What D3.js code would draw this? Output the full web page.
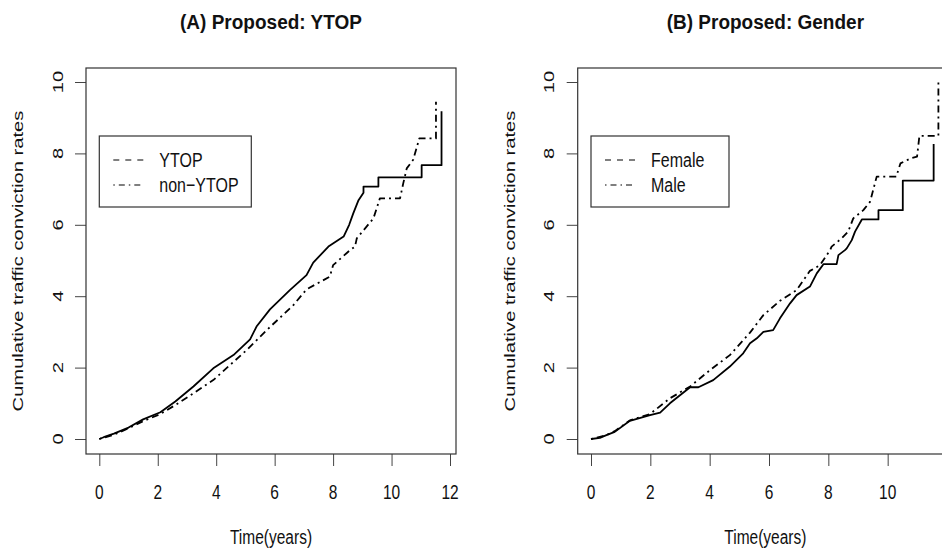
<!DOCTYPE html>
<html>
<head>
<meta charset="utf-8">
<script src="https://cdn.jsdelivr.net/npm/d3@7"></script>
<style>
  body { margin: 0; background: #fff; }
  svg { display: block; font-family: "Liberation Sans", Arial, sans-serif; }
</style>
</head>
<body>
<svg id="chart" width="942" height="552"></svg>
<script>
// Values (time in years, cumulative rate);
var ytopTime    = [0, 0.15, 0.5, 1.0, 1.5, 2.09, 2.6, 3.22, 3.9, 4.59, 5.16, 5.38, 5.84, 6.52, 7.09, 7.32, 7.84, 8.36, 8.55, 8.69, 8.87, 9.04, 9.04, 9.55, 9.55, 11.03, 11.03, 11.71, 11.71]
var ytopRate    = [0, 0.05, 0.15, 0.32, 0.55, 0.75, 1.05, 1.47, 1.98, 2.35, 2.79, 3.15, 3.63, 4.17, 4.59, 4.94, 5.39, 5.67, 6.0, 6.32, 6.69, 6.9, 7.07, 7.07, 7.33, 7.33, 7.67, 7.67, 9.18]
var nonYtopTime = [0, 0.5, 1.0, 1.5, 2.09, 2.6, 3.22, 3.9, 5.04, 5.73, 6.64, 7.09, 7.89, 8.0, 8.58, 8.75, 8.81, 9.38, 9.6, 10.29, 10.4, 10.52, 10.74, 10.95, 11.52, 11.52]
var nonYtopRate = [0, 0.12, 0.3, 0.5, 0.7, 0.95, 1.28, 1.65, 2.49, 3.05, 3.75, 4.19, 4.55, 4.87, 5.29, 5.39, 5.62, 6.18, 6.74, 6.74, 7.16, 7.58, 7.82, 8.42, 8.42, 9.45]

var femaleTime = [0, 0.3, 0.5, 0.8, 1.31, 1.99, 2.33, 2.66, 3.34, 3.62, 4.12, 4.68, 5.13, 5.36, 5.59, 5.81, 6.14, 6.37, 6.71, 6.93, 7.38, 7.61, 7.84, 8.28, 8.34, 8.56, 8.62, 8.79, 8.90, 9.13, 9.69, 9.69, 10.51, 10.51, 11.55, 11.55]
var femaleRate = [0, 0.03, 0.1, 0.2, 0.51, 0.67, 0.74, 1.0, 1.45, 1.45, 1.65, 2.03, 2.4, 2.68, 2.82, 3.0, 3.05, 3.38, 3.80, 4.03, 4.27, 4.64, 4.90, 4.90, 5.15, 5.29, 5.34, 5.57, 5.81, 6.15, 6.15, 6.41, 6.41, 7.24, 7.24, 8.26]
var maleTime   = [0, 0.5, 0.8, 1.31, 1.99, 2.66, 3.34, 4.01, 4.68, 5.36, 5.81, 6.37, 6.93, 7.38, 7.72, 8.06, 8.11, 8.45, 8.67, 8.84, 9.18, 9.41, 9.63, 10.29, 10.43, 10.77, 10.99, 11.07, 11.71, 11.71]
var maleRate   = [0, 0.1, 0.22, 0.52, 0.70, 1.14, 1.47, 1.93, 2.35, 2.98, 3.47, 3.87, 4.17, 4.71, 4.87, 5.29, 5.39, 5.62, 5.81, 6.18, 6.41, 6.65, 7.35, 7.35, 7.72, 7.86, 7.91, 8.49, 8.49, 10.01]

// Tick labels;
var xTicksLeft  = [0, 2, 4, 6, 8, 10, 12]
var xTicksRight = [0, 2, 4, 6, 8, 10]
var yTicks      = [0, 2, 4, 6, 8, 10]

// Text in the picture is taller than it is wide, so stretch it vertically;
const stretch = 1.3
const dotDash = "2,4,7,4"

const svg = d3.select("#chart")

/////////////////////////////

// Put a text at (x, y), centred, stretched along the vertical;
function label(g, str, x, y, size, opts) {
    opts = opts || {}
    var tr = opts.rotate
        ? `translate(${x},${y}) rotate(-90) scale(${stretch},1)`
        : `translate(${x},${y}) scale(1,${opts.sy || stretch})`
    return g.append("text")
        .attr("transform", tr)
        .attr("text-anchor", "middle")
        .attr("dominant-baseline", "central")
        .attr("font-size", size)
        .attr("font-weight", opts.bold ? "bold" : null)
        .attr("fill", "#111")
        .text(str)
}

function drawPanel(p) {
    const g = svg.append("g")

    const x = d3.scaleLinear().domain([0, 12]).range(p.xRange)
    const y = d3.scaleLinear().domain([0, 10]).range([439, 82])

    const boxLeft = p.xRange[0] - 13.3, boxRight = p.xRange[1] + 6
    const boxTop = 68, boxBottom = 454

    // Axes, R style: ticks below and to the left of the box;
    const xAxis = g.append("g")
        .attr("transform", `translate(0,${boxBottom})`)
        .call(d3.axisBottom(x).tickValues(p.xTicks).tickSize(12).tickFormat(""))
    const yAxis = g.append("g")
        .attr("transform", `translate(${boxLeft},0)`)
        .call(d3.axisLeft(y).tickValues(yTicks).tickSize(11).tickFormat(""))
    g.selectAll(".domain").remove()
    g.selectAll(".tick line").attr("stroke", "#444").attr("stroke-width", 1)

    g.append("rect")
        .attr("x", boxLeft).attr("y", boxTop)
        .attr("width", boxRight - boxLeft).attr("height", boxBottom - boxTop)
        .attr("fill", "none").attr("stroke", "#333").attr("stroke-width", 1.2)

    p.xTicks.forEach(t => label(g, t, x(t), 492, 15.5))
    yTicks.forEach(t => label(g, t, boxLeft - 28.5, y(t), 15.5, { rotate: true }))

    label(g, "Time(years)", (boxLeft + boxRight) / 2, 537, 15.5)
    label(g, "Cumulative traffic conviction rates", boxLeft - 68, (boxTop + boxBottom) / 2, 15.5, { rotate: true })
    label(g, p.title, (boxLeft + boxRight) / 2, 22, 19, { bold: true, sy: 1.1 })

    // Curves;
    const line = d3.line().x(d => x(d[0])).y(d => y(d[1]))
    p.series.forEach(s => {
        g.append("path")
            .datum(d3.zip(s.time, s.rate))
            .attr("d", line)
            .attr("fill", "none")
            .attr("stroke", "#000")
            .attr("stroke-width", 1.8)
            .attr("stroke-linejoin", "round")
            .attr("stroke-dasharray", s.dash)
    })

    // Legend;
    const lg = g.append("g").attr("transform", `translate(${boxLeft + 13.3},136)`)
    lg.append("rect")
        .attr("width", p.legendWidth).attr("height", 71)
        .attr("fill", "#fff").attr("stroke", "#333").attr("stroke-width", 1.2)
    p.series.forEach((s, i) => {
        const ly = 24 + i * 25
        lg.append("line")
            .attr("x1", 14).attr("x2", 45).attr("y1", ly).attr("y2", ly)
            .attr("stroke", "#000").attr("stroke-width", 1.2)
            .attr("stroke-dasharray", s.legendDash)
        label(lg, s.name, 0, ly, 16).attr("text-anchor", "start")
            .attr("transform", `translate(60,${ly}) scale(1,${stretch})`)
    })
}

drawPanel({
    title: "(A) Proposed: YTOP",
    xRange: [99.3, 450],
    xTicks: xTicksLeft,
    legendWidth: 152,
    series: [
        { name: "YTOP", time: ytopTime, rate: ytopRate, dash: null, legendDash: "6,6" },
        { name: "non\u2212YTOP", time: nonYtopTime, rate: nonYtopRate, dash: dotDash, legendDash: "1.5,4,6,4" }
    ]
})

drawPanel({
    title: "(B) Proposed: Gender",
    xRange: [591, 947],
    xTicks: xTicksRight,
    legendWidth: 138,
    series: [
        { name: "Female", time: femaleTime, rate: femaleRate, dash: null, legendDash: "6,6" },
        { name: "Male", time: maleTime, rate: maleRate, dash: dotDash, legendDash: "1.5,4,6,4" }
    ]
})
</script>
</body>
</html>
